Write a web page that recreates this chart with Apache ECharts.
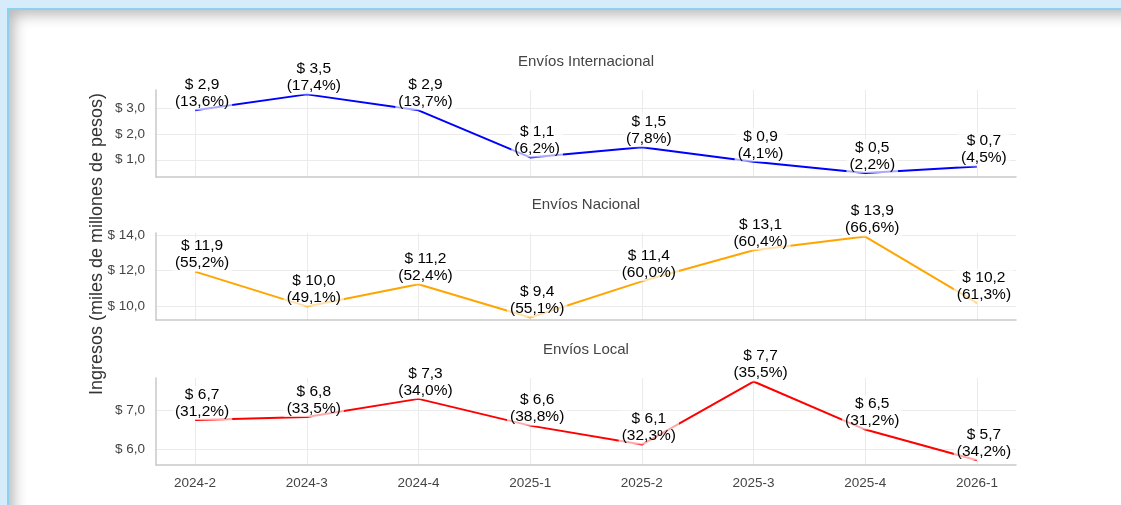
<!DOCTYPE html>
<html>
<head>
<meta charset="utf-8">
<script src="https://cdn.jsdelivr.net/npm/echarts@6/dist/echarts.min.js"></script>
<style>
  html, body { margin: 0; padding: 0; background: #d6ecfa; overflow: hidden; }
  #frame {
    position: absolute; left: 7px; top: 8px; width: 1300px; height: 700px;
    background: #fff;
    border-top: 2px solid #8dd0f2; border-left: 2px solid #8dd0f2;
    box-shadow: inset 5px 5px 14px rgba(0, 0, 0, 0.28);
  }
  #chart { position: absolute; left: 0; top: 0; width: 1121px; height: 505px; }
</style>
</head>
<body>
<div id="frame"></div>
<div id="chart"></div>
<script>
const periods = ['2024-2', '2024-3', '2024-4', '2025-1', '2025-2', '2025-3', '2025-4', '2026-1'];

// ingresos en miles de millones de pesos, y participación (%) de cada tipo de envío
const internacional = [2.92, 3.54, 2.92, 1.09, 1.49, 0.92, 0.49, 0.74];
const internacionalPct = [13.6, 17.4, 13.7, 6.2, 7.8, 4.1, 2.2, 4.5];
const nacional = [11.94, 10.0, 11.24, 9.38, 11.4, 13.14, 13.9, 10.2];
const nacionalPct = [55.2, 49.1, 52.4, 55.1, 60.0, 60.4, 66.6, 61.3];
const local = [6.74, 6.82, 7.28, 6.6, 6.12, 7.72, 6.5, 5.72];
const localPct = [31.2, 33.5, 34.0, 38.8, 32.3, 35.5, 31.2, 34.2];

const titles = ['Envíos Internacional', 'Envíos Nacional', 'Envíos Local'];
const yTicks = [[1, 2, 3], [10, 12, 14], [6, 7]];
const yRanges = [[0.33, 3.71], [9.24, 14.1], [5.6, 7.81]];
const colors = ['#0000ff', '#ffa500', '#ff0000'];
const panels = [
  { values: internacional, pct: internacionalPct },
  { values: nacional, pct: nacionalPct },
  { values: local, pct: localPct }
];

const gridTops = [90, 233, 378];
const gridHeight = 87;
const FONT = '"Liberation Sans", Arial, sans-serif';
const xIdx = periods.map((p, i) => i);

const comma = (v) => v.toFixed(1).replace('.', ',');

const chart = echarts.init(document.getElementById('chart'), null, { renderer: 'canvas' });

const option = {
  animation: false,
  backgroundColor: 'transparent',
  textStyle: { fontFamily: FONT },
  title: titles.map((t, i) => ({
    text: t,
    left: 581,
    textAlign: 'center',
    top: gridTops[i] - 41,
    textStyle: { fontSize: 15, fontWeight: 'normal', color: '#444', fontFamily: FONT }
  })),
  grid: gridTops.map((top) => ({ left: 156, right: 105, top: top, height: gridHeight })),
  xAxis: gridTops.map((t, i) => ({
    type: 'value',
    gridIndex: i,
    min: -0.35,
    max: 7.35,
    axisLine: { show: true, onZero: false, lineStyle: { color: '#c9c9c9', width: 1.5 } },
    axisTick: { show: false, customValues: xIdx },
    axisLabel: {
      show: i === 2,
      customValues: xIdx,
      formatter: (v) => periods[Math.round(v)],
      color: '#444',
      fontSize: 13.5,
      margin: 11,
      fontFamily: FONT
    },
    splitLine: { show: true, lineStyle: { color: '#ebebeb', width: 1 } }
  })),
  yAxis: gridTops.map((t, i) => ({
    type: 'value',
    gridIndex: i,
    min: yRanges[i][0],
    max: yRanges[i][1],
    axisLine: { show: true, onZero: false, lineStyle: { color: '#c9c9c9', width: 1.5 } },
    axisTick: { show: false, customValues: yTicks[i] },
    axisLabel: {
      customValues: yTicks[i],
      formatter: (v) => '$ ' + comma(v),
      color: '#444',
      fontSize: 13.5,
      margin: 11,
      fontFamily: FONT
    },
    splitLine: { show: true, lineStyle: { color: '#ebebeb', width: 1 } }
  })),
  series: panels.map((p, i) => ({
    type: 'line',
    xAxisIndex: i,
    yAxisIndex: i,
    data: p.values.map((v, k) => [k, v]),
    symbol: 'circle',
    symbolSize: 2,
    showSymbol: true,
    showAllSymbol: true,
    itemStyle: { color: 'rgba(0,0,0,0)', borderWidth: 0 },
    lineStyle: { color: colors[i], width: 2 },
    label: {
      show: true,
      position: 'top',
      distance: -1,
      offset: [7, 0],
      formatter: (prm) => '$ ' + comma(p.values[prm.dataIndex]) + '\n(' + comma(p.pct[prm.dataIndex]) + '%)',
      color: '#000',
      fontSize: 15.5,
      lineHeight: 17,
      align: 'center',
      backgroundColor: 'rgba(255,255,255,0.66)',
      padding: [0, 3, 0, 3],
      fontFamily: FONT
    }
  })),
  graphic: [{
    type: 'text',
    x: 97,
    y: 244,
    rotation: Math.PI / 2,
    style: {
      text: 'Ingresos (miles de millones de pesos)',
      fill: '#333',
      font: '18px ' + FONT,
      align: 'center',
      verticalAlign: 'middle'
    }
  }]
};

chart.setOption(option);
</script>
</body>
</html>
